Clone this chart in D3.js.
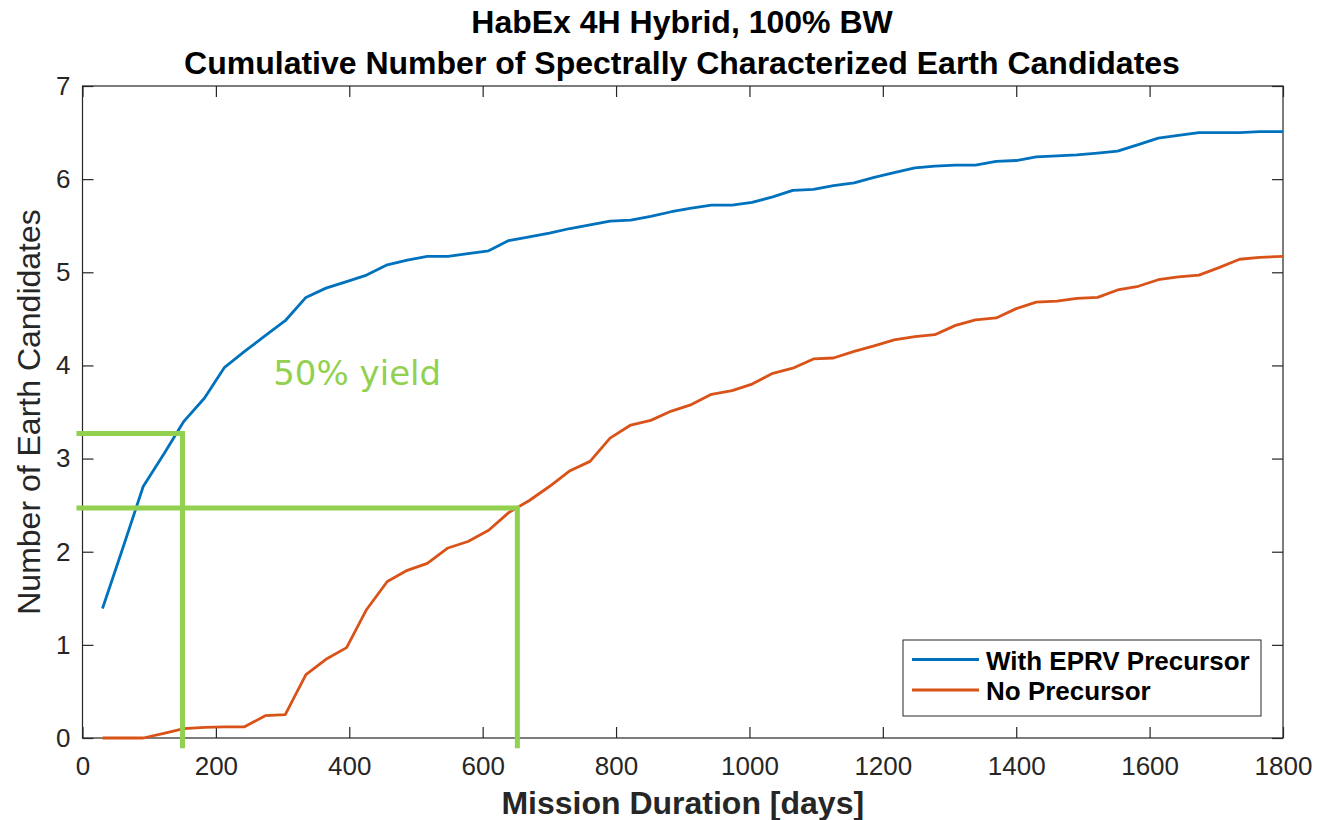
<!DOCTYPE html>
<html>
<head>
<meta charset="utf-8">
<script src="https://cdn.jsdelivr.net/npm/d3@7"></script>
<style>
  html, body { margin: 0; padding: 0; background: #fff; }
  svg { display: block; }
</style>
</head>
<body>
<svg id="chart" width="1319" height="820"></svg>
<script>
// ---------- data ----------
const missionDays = [30, 61, 91, 122, 152, 183, 213, 243, 274, 304, 335, 365, 396, 426, 457, 487, 517, 548, 578, 609,
  639, 670, 700, 731, 761, 791, 822, 852, 883, 913, 943, 974, 1004, 1035, 1065, 1096, 1126, 1157, 1187, 1217,
  1248, 1278, 1309, 1339, 1370, 1400, 1430, 1461, 1491, 1522, 1552, 1583, 1613, 1643, 1674, 1704, 1735, 1765, 1800];

const withEPRV = [1.39, 2.05, 2.70, 3.05, 3.40, 3.65, 3.98, 4.15, 4.32, 4.48, 4.73, 4.83, 4.90, 4.97, 5.08, 5.13, 5.17, 5.17, 5.20, 5.23,
  5.34, 5.38, 5.42, 5.47, 5.51, 5.55, 5.56, 5.60, 5.65, 5.69, 5.72, 5.72, 5.75, 5.81, 5.88, 5.89, 5.93, 5.96, 6.02, 6.07,
  6.12, 6.14, 6.15, 6.15, 6.19, 6.20, 6.24, 6.25, 6.26, 6.28, 6.30, 6.37, 6.44, 6.47, 6.50, 6.50, 6.50, 6.51, 6.51];

const noPrecursor = [0.00, 0.00, 0.00, 0.05, 0.10, 0.115, 0.12, 0.12, 0.24, 0.25, 0.68, 0.845, 0.97, 1.38, 1.68, 1.80, 1.875, 2.04, 2.11, 2.23,
  2.42, 2.55, 2.70, 2.87, 2.97, 3.22, 3.36, 3.41, 3.51, 3.58, 3.69, 3.73, 3.80, 3.915, 3.97, 4.07, 4.08, 4.15, 4.21, 4.275,
  4.31, 4.33, 4.43, 4.49, 4.51, 4.61, 4.68, 4.69, 4.72, 4.73, 4.81, 4.85, 4.92, 4.95, 4.97, 5.05, 5.14, 5.16, 5.17];

const seriesNames = ["With EPRV Precursor", "No Precursor"];
const seriesColors = ["#0072BD", "#D95319"];

const xTicks = [0, 200, 400, 600, 800, 1000, 1200, 1400, 1600, 1800];
const yTicks = [0, 1, 2, 3, 4, 5, 6, 7];

// 50% yield annotation: [day, yield]
const yieldDays = [150, 652];
const yieldValues = [3.27, 2.47];
const yieldLabel = "50% yield";

const titleLines = ["HabEx 4H Hybrid, 100% BW", "Cumulative Number of Spectrally Characterized Earth Candidates"];
const xLabel = "Mission Duration [days]";
const yLabel = "Number of Earth Candidates";

// ---------- layout ----------
const svg = d3.select("#chart");
const L = 82.5, R = 1283, T = 86, B = 738;
const x = d3.scaleLinear().domain([0, 1800]).range([L, R]);
const y = d3.scaleLinear().domain([0, 7]).range([B, T]);
const axisColor = "#262626";
const font = "'Liberation Sans', Arial, Helvetica, sans-serif";

// frame
svg.append("rect").attr("x", L).attr("y", T).attr("width", R - L).attr("height", B - T)
  .attr("fill", "#fff").attr("stroke", axisColor).attr("stroke-width", 1.2);

// axes (ticks inside, MATLAB style)
const tickLen = 11;
function styleAxis(g) {
  g.select(".domain").remove();
  g.selectAll(".tick line").attr("stroke", axisColor).attr("stroke-width", 1.2);
  g.selectAll(".tick text").attr("fill", axisColor).attr("font-family", font).attr("font-size", 26);
}
svg.append("g").attr("transform", `translate(0,${B})`)
  .call(d3.axisBottom(x).tickValues(xTicks).tickFormat(d3.format("d")).tickSizeInner(-tickLen).tickPadding(19))
  .call(styleAxis);
svg.append("g").attr("transform", `translate(0,${T})`)
  .call(d3.axisTop(x).tickValues(xTicks).tickFormat("").tickSizeInner(-tickLen))
  .call(styleAxis);
svg.append("g").attr("transform", `translate(${L},0)`)
  .call(d3.axisLeft(y).tickValues(yTicks).tickFormat(d3.format("d")).tickSizeInner(-tickLen).tickPadding(12))
  .call(styleAxis);
svg.append("g").attr("transform", `translate(${R},0)`)
  .call(d3.axisRight(y).tickValues(yTicks).tickFormat("").tickSizeInner(-tickLen))
  .call(styleAxis);

// lines
const line = d3.line().x((d, i) => x(missionDays[i])).y(d => y(d));
[withEPRV, noPrecursor].forEach((s, k) => {
  svg.append("path").datum(s).attr("d", line)
    .attr("fill", "none").attr("stroke", seriesColors[k]).attr("stroke-width", 2.8)
    .attr("stroke-linejoin", "round");
});

// green annotation
const green = "#92D050";
yieldDays.forEach((d, i) => {
  svg.append("path")
    .attr("d", `M${x(-9)},${y(yieldValues[i])}H${x(d)}V${y(-0.11)}`)
    .attr("fill", "none").attr("stroke", green).attr("stroke-width", 5);
});
svg.append("text").attr("x", x(286)).attr("y", y(3.79))
  .attr("font-family", "'DejaVu Sans', Verdana, sans-serif").attr("font-size", 34)
  .attr("fill", green).text(yieldLabel);

// titles
svg.append("text").attr("x", 682).attr("y", 33).attr("text-anchor", "middle")
  .attr("font-family", font).attr("font-weight", "bold").attr("font-size", 32)
  .attr("fill", "#000").text(titleLines[0]);
svg.append("text").attr("x", 682).attr("y", 74).attr("text-anchor", "middle")
  .attr("font-family", font).attr("font-weight", "bold").attr("font-size", 32)
  .attr("fill", "#000").text(titleLines[1]);

// axis labels
svg.append("text").attr("x", x(900)).attr("y", 814).attr("text-anchor", "middle")
  .attr("font-family", font).attr("font-weight", "bold").attr("font-size", 32)
  .attr("fill", axisColor).text(xLabel);
svg.append("text").attr("transform", `translate(40,${(T + B) / 2}) rotate(-90)`)
  .attr("text-anchor", "middle")
  .attr("font-family", font).attr("font-size", 32)
  .attr("fill", axisColor).text(yLabel);

// legend
const lg = svg.append("g");
lg.append("rect").attr("x", 903).attr("y", 640).attr("width", 358).attr("height", 76)
  .attr("fill", "#fff").attr("stroke", axisColor).attr("stroke-width", 1);
seriesNames.forEach((n, i) => {
  const ly = 659.5 + i * 30.5;
  lg.append("line").attr("x1", 912).attr("x2", 979).attr("y1", ly).attr("y2", ly)
    .attr("stroke", seriesColors[i]).attr("stroke-width", 2.8);
  lg.append("text").attr("x", 986).attr("y", ly + 10)
    .attr("font-family", font).attr("font-weight", "bold").attr("font-size", 26)
    .attr("fill", "#000").text(n);
});
</script>
</body>
</html>
